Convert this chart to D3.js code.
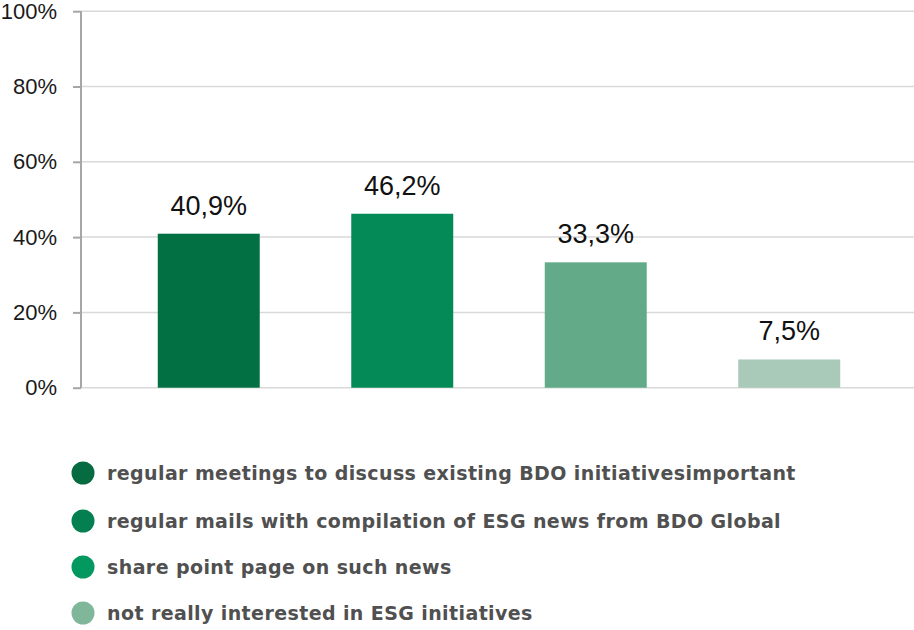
<!DOCTYPE html>
<html>
<head>
<meta charset="utf-8">
<script src="https://cdn.jsdelivr.net/npm/d3@7"></script>
<style>
  html, body { margin: 0; padding: 0; background: #fff; }
  svg { display: block; }
</style>
</head>
<body>
<svg id="chart" width="914" height="630"></svg>
<script>
// Survey answers and their shares
const categories = [
  "regular meetings to discuss existing BDO initiativesimportant",
  "regular mails with compilation of ESG news from BDO Global",
  "share point page on such news",
  "not really interested in ESG initiatives"
];
const values = [40.9, 46.2, 33.3, 7.5];
const valueLabels = ["40,9%", "46,2%", "33,3%", "7,5%"];
const yTicks = [0, 20, 40, 60, 80, 100];
const yTickLabels = ["0%", "20%", "40%", "60%", "80%", "100%"];

const barColors = ["#037044", "#038a57", "#62aa88", "#a9cab9"];
const legendColors = ["#066b41", "#048050", "#03985f", "#80b79a"];

const svg = d3.select("#chart");

const axisX = 81;
const plotRight = 914;

const y = d3.scaleLinear().domain([0, 100]).range([387.7, 11.2]);
const x = d3.scaleBand()
  .domain(d3.range(categories.length))
  .range([112, 886])
  .paddingInner(0.473)
  .paddingOuter(0.2365);

// gridlines
svg.append("g")
  .selectAll("line")
  .data(yTicks)
  .join("line")
  .attr("x1", axisX)
  .attr("x2", plotRight)
  .attr("y1", d => y(d))
  .attr("y2", d => y(d))
  .attr("stroke", "#d9d9d9")
  .attr("stroke-width", 1.5);

// y axis
const yAxis = d3.axisLeft(y)
  .tickValues(yTicks)
  .tickFormat((d, i) => yTickLabels[i])
  .tickSize(8)
  .tickPadding(16);

const gy = svg.append("g")
  .attr("transform", `translate(${axisX},0)`)
  .call(yAxis);
gy.select(".domain").remove();
gy.selectAll(".tick line").attr("stroke", "#a6a6a6").attr("stroke-width", 2);
gy.selectAll(".tick text")
  .attr("fill", "#1a1a1a")
  .style("font-family", "'Liberation Sans', Arial, sans-serif")
  .style("font-size", "22px");
svg.append("line")
  .attr("x1", axisX).attr("x2", axisX)
  .attr("y1", y(100)).attr("y2", y(0))
  .attr("stroke", "#a6a6a6")
  .attr("stroke-width", 2);

// bars
svg.append("g")
  .selectAll("rect")
  .data(values)
  .join("rect")
  .attr("x", (d, i) => x(i))
  .attr("width", x.bandwidth())
  .attr("y", d => y(d))
  .attr("height", d => y(0) - y(d))
  .attr("fill", (d, i) => barColors[i]);

// value labels
svg.append("g")
  .selectAll("text")
  .data(values)
  .join("text")
  .attr("x", (d, i) => x(i) + x.bandwidth() / 2)
  .attr("y", d => y(d) - 19)
  .attr("text-anchor", "middle")
  .attr("fill", "#111")
  .style("font-family", "'Liberation Sans Narrow', 'Liberation Sans', Arial, sans-serif")
  .style("font-size", "27px")
  .text((d, i) => valueLabels[i]);

// legend
const legend = svg.append("g");
const legendY = [473, 521, 567, 613];
const items = legend.selectAll("g")
  .data(categories)
  .join("g")
  .attr("transform", (d, i) => `translate(0,${legendY[i]})`);
items.append("circle")
  .attr("cx", 83)
  .attr("cy", 0)
  .attr("r", 11.5)
  .attr("fill", (d, i) => legendColors[i]);
items.append("text")
  .attr("x", 107)
  .attr("y", 0)
  .attr("dy", "0.35em")
  .attr("fill", "#505050")
  .style("font-family", "'DejaVu Sans', Verdana, sans-serif")
  .style("font-weight", "bold")
  .style("font-size", "19px")
  .style("letter-spacing", "0.4px")
  .text(d => d);
</script>
</body>
</html>
